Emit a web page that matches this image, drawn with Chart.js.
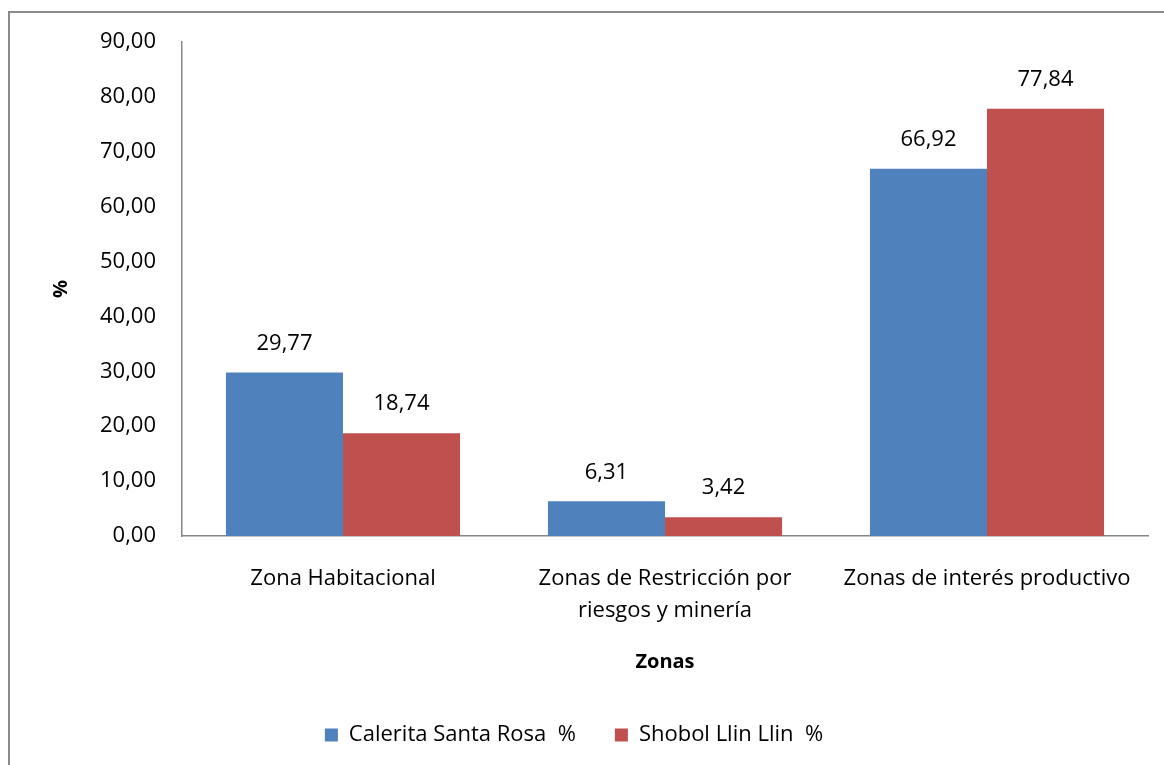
<!DOCTYPE html>
<html>
<head>
<meta charset="utf-8">
<script src="https://cdn.jsdelivr.net/npm/chart.js@4.4.1/dist/chart.umd.min.js"></script>
<style>
  html, body { margin: 0; padding: 0; background: #fff; overflow: hidden; }
  #frame { position: absolute; left: 8px; top: 11px; width: 1200px; height: 800px; border: 2px solid #8a8a8a; }
  #myChart { position: absolute; left: 0; top: 0; }
</style>
</head>
<body>
<div id="frame"></div>
<canvas id="myChart" width="1164" height="765"></canvas>
<script>
let zonas = ['Zona Habitacional', ['Zonas de Restricción por', 'riesgos y minería'], 'Zonas de interés productivo'];
let calerita = [29.77, 6.31, 66.92];
let shobol = [18.74, 3.42, 77.84];
let seriesNames = ['Calerita Santa Rosa  %', 'Shobol Llin Llin  %'];
let yTicks = [0, 10, 20, 30, 40, 50, 60, 70, 80, 90];

const fontFam = '"Open Sans", sans-serif';

function coma(v) {
    return v.toFixed(2).replace('.', ',');
}

// value labels above the bars
const barLabels = {
    id: 'barLabels',
    afterDatasetsDraw(chart) {
        const ctx = chart.ctx;
        ctx.save();
        ctx.font = '22px ' + fontFam;
        ctx.fillStyle = '#000';
        ctx.textAlign = 'center';
        ctx.textBaseline = 'middle';
        chart.data.datasets.forEach((ds, i) => {
            chart.getDatasetMeta(i).data.forEach((bar, j) => {
                ctx.fillText(coma(ds.data[j]), bar.x, bar.y - 29);
            });
        });
        ctx.restore();
    }
};

let ctx = document.getElementById('myChart').getContext('2d');
let myChart = new Chart(ctx, {
    type: 'bar',
    data: {
        labels: zonas,
        datasets: [
            {
                label: seriesNames[0],
                data: calerita,
                backgroundColor: '#4F81BD'
            },
            {
                label: seriesNames[1],
                data: shobol,
                backgroundColor: '#C0504D'
            }
        ]
    },
    options: {
        responsive: false,
        animation: false,
        categoryPercentage: 0.727,
        barPercentage: 1,
        layout: {
            padding: { top: 42, left: 0, right: 16, bottom: 9 }
        },
        scales: {
            x: {
                grid: { display: false, drawTicks: false },
                border: { color: '#868686', width: 1.5 },
                ticks: {
                    color: '#000',
                    padding: 27,
                    maxRotation: 0,
                    autoSkip: false,
                    font: { family: fontFam, size: 22, lineHeight: 1.45 }
                },
                title: {
                    display: true,
                    text: 'Zonas',
                    color: '#000',
                    font: { family: fontFam, size: 20, weight: 'bold' },
                    padding: { top: 0, bottom: 11 }
                },
                afterFit: scale => { scale.height = 149; }
            },
            y: {
                min: 0,
                max: 90,
                grid: { display: false, drawTicks: false },
                border: { color: '#868686', width: 1.5 },
                afterBuildTicks: scale => {
                    scale.ticks = yTicks.map(v => ({ value: v }));
                },
                ticks: {
                    color: '#000',
                    padding: 26,
                    callback: v => coma(v),
                    font: { family: fontFam, size: 22 }
                },
                title: {
                    display: true,
                    text: '%',
                    color: '#000',
                    font: { family: fontFam, size: 20, weight: 'bold' },
                    padding: { top: 49, bottom: 0 }
                },
                afterFit: scale => { scale.width = 182; }
            }
        },
        plugins: {
            legend: {
                position: 'bottom',
                maxHeight: 81,
                labels: {
                    color: '#000',
                    boxWidth: 13,
                    boxHeight: 13,
                    padding: 39,
                    font: { family: fontFam, size: 22 }
                }
            },
            tooltip: { enabled: false }
        }
    },
    plugins: [barLabels]
});
</script>
</body>
</html>
